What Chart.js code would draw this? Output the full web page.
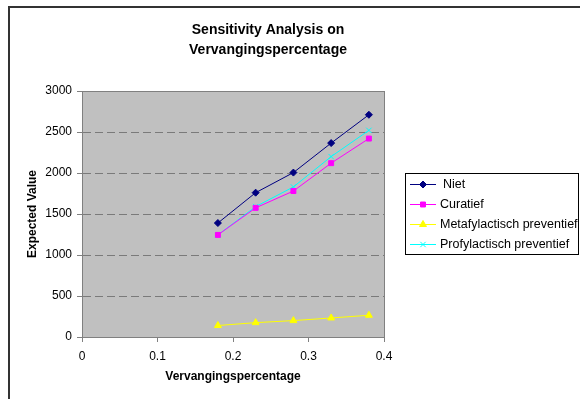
<!DOCTYPE html>
<html>
<head>
<meta charset="utf-8">
<script src="https://cdn.jsdelivr.net/npm/chart.js@4/dist/chart.umd.min.js"></script>
<style>
  html, body { margin: 0; padding: 0; background: #fff; }
  #wrap { width: 580px; height: 399px; }
</style>
</head>
<body>
<div id="wrap"><canvas id="c" width="580" height="399"></canvas></div>
<script>
// Replacement rate (x) and expected value per strategy
const vervanging = [0.18, 0.23, 0.28, 0.33, 0.38];
const niet = [1390, 1760, 2005, 2365, 2710];
const curatief = [1245, 1575, 1780, 2120, 2420];
const metafylactisch = [140, 175, 200, 232, 265];
const profylactisch = [1245, 1590, 1830, 2200, 2520];

const titleLines = ['Sensitivity Analysis on', 'Vervangingspercentage'];
const xTicks = [0, 0.1, 0.2, 0.3, 0.4];
const yTicks = [0, 500, 1000, 1500, 2000, 2500, 3000];

const FONT = '"Liberation Sans", Arial, sans-serif';

function pts(ys) { return vervanging.map((x, i) => ({ x: x, y: ys[i] })); }

function series(label, ys, color, style, radius) {
  return {
    label: label,
    data: pts(ys),
    borderColor: color,
    backgroundColor: color,
    borderWidth: 1,
    pointStyle: style,
    pointRadius: radius,
    pointBorderWidth: 1,
    pointBorderColor: color,
    pointBackgroundColor: color,
    fill: false,
    tension: 0
  };
}

const datasets = [
  series('Niet', niet, '#000080', 'rectRot', 3.5),
  series('Curatief', curatief, '#ff00ff', 'rect', 3.5),
  series('Metafylactisch preventief', metafylactisch, '#ffff00', 'triangle', 4),
  series('Profylactisch preventief', profylactisch, '#00ffff', 'crossRot', 3.8)
];

// Plot background, plot frame, outer frame, title and legend box
const decor = {
  id: 'decor',
  beforeDraw(chart) {
    const { ctx, chartArea: a } = chart;
    ctx.save();
    ctx.fillStyle = '#fff';
    ctx.fillRect(0, 0, chart.width, chart.height);
    ctx.fillStyle = '#c0c0c0';
    ctx.fillRect(a.left, a.top, a.right - a.left, a.bottom - a.top);
    ctx.restore();
  },
  beforeDatasetsDraw(chart) {
    const { ctx, chartArea: a } = chart;
    ctx.save();
    ctx.strokeStyle = '#808080';
    ctx.lineWidth = 1;
    ctx.strokeRect(Math.round(a.left) + 0.5, Math.round(a.top) + 0.5,
      Math.round(a.right - a.left), Math.round(a.bottom - a.top));
    ctx.restore();
  },
  afterDraw(chart) {
    const ctx = chart.ctx;
    ctx.save();
    // outer frame
    ctx.strokeStyle = '#333';
    ctx.lineWidth = 2;
    ctx.beginPath();
    ctx.moveTo(9, chart.height);
    ctx.lineTo(9, 7);
    ctx.lineTo(chart.width, 7);
    ctx.stroke();

    // title
    ctx.fillStyle = '#000';
    ctx.font = 'bold 14px ' + FONT;
    ctx.textAlign = 'center';
    ctx.textBaseline = 'middle';
    titleLines.forEach((t, i) => ctx.fillText(t, 268, 30 + i * 20));

    // legend
    const bx = 405.5, by = 173.5, bw = 173, bh = 81;
    ctx.fillStyle = '#fff';
    ctx.fillRect(bx, by, bw, bh);
    ctx.strokeStyle = '#000';
    ctx.lineWidth = 1;
    ctx.strokeRect(bx, by, bw, bh);
    ctx.font = '12.5px ' + FONT;
    ctx.textAlign = 'left';
    const rows = [184, 204, 224, 244];
    chart.data.datasets.forEach((ds, i) => {
      const y = rows[i];
      ctx.strokeStyle = ds.borderColor;
      ctx.lineWidth = 1;
      ctx.beginPath();
      ctx.moveTo(410, y + 0.5);
      ctx.lineTo(436, y + 0.5);
      ctx.stroke();
      ctx.fillStyle = ds.pointBackgroundColor;
      if (Chart.helpers && Chart.helpers.drawPoint) {
        Chart.helpers.drawPoint(ctx, {
          pointStyle: ds.pointStyle, radius: ds.pointRadius,
          borderWidth: 1, rotation: 0
        }, 423, y + 0.5);
      }
      ctx.fillStyle = '#000';
      ctx.fillText(ds.label, i === 0 ? 443 : 440, y + 1);
    });
    ctx.restore();
  }
};

new Chart(document.getElementById('c'), {
  type: 'line',
  data: { datasets: datasets },
  plugins: [decor],
  options: {
    responsive: false,
    animation: false,
    events: [],
    layout: { padding: { left: 0, top: 91, right: 196, bottom: 0 } },
    plugins: {
      legend: { display: false },
      title: { display: false },
      tooltip: { enabled: false }
    },
    scales: {
      x: {
        type: 'linear',
        position: 'bottom',
        min: 0,
        max: 0.4,
        afterFit(s) { s.height = 62; },
        afterBuildTicks(s) { s.ticks = xTicks.map(v => ({ value: v })); },
        ticks: {
          color: '#000',
          font: { family: FONT, size: 12 },
          padding: 7,
          maxRotation: 0,
          callback: v => String(Math.round(v * 10) / 10)
        },
        grid: {
          drawOnChartArea: false,
          drawTicks: true,
          tickLength: 5,
          color: '#808080',
          tickColor: '#808080'
        },
        border: { display: true, color: '#808080', width: 1 },
        title: {
          display: true,
          text: 'Vervangingspercentage',
          color: '#000',
          font: { family: FONT, size: 12, weight: 'bold' },
          padding: { top: 0, bottom: 15 }
        }
      },
      y: {
        type: 'linear',
        position: 'left',
        min: 0,
        max: 3000,
        afterFit(s) { s.width = 82; },
        afterBuildTicks(s) { s.ticks = yTicks.map(v => ({ value: v })); },
        ticks: {
          color: '#000',
          font: { family: FONT, size: 12 },
          padding: 5,
          callback: v => String(v)
        },
        grid: {
          drawOnChartArea: true,
          drawTicks: true,
          tickLength: 5,
          color: '#7a7a7a',
          tickColor: '#808080',
          tickBorderDash: []
        },
        border: { display: true, color: '#808080', width: 1, dash: [8, 4] },
        title: {
          display: true,
          text: 'Expected Value',
          color: '#000',
          font: { family: FONT, size: 12, weight: 'bold' },
          padding: { top: 25, bottom: 0 }
        }
      }
    }
  }
});
</script>
</body>
</html>
